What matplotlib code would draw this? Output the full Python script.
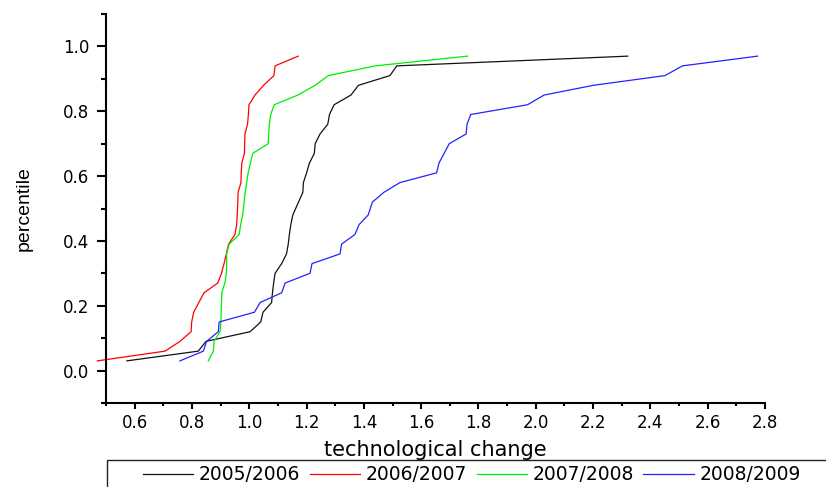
import matplotlib
matplotlib.use("Agg")
import matplotlib.pyplot as plt
from matplotlib.patches import Rectangle
from matplotlib.ticker import MultipleLocator, FormatStrFormatter

plt.rcParams["font.family"] = ["DejaVu Sans"]

TICK_FONTSIZE = 12
LABEL_FONTSIZE = 15
LEGEND_FONTSIZE = 13.5
LINE_WIDTH = 0.9

# empirical percentiles (same for every year)
percentile = [0.03, 0.06, 0.09, 0.12, 0.15, 0.18, 0.21, 0.24, 0.27, 0.30, 0.33, 0.36,
              0.39, 0.42, 0.45, 0.48, 0.52, 0.55, 0.58, 0.61, 0.64, 0.67, 0.70, 0.73,
              0.76, 0.79, 0.82, 0.85, 0.88, 0.91, 0.94, 0.97]

tc_2005 = [0.573, 0.822, 0.849, 1.003, 1.040, 1.048, 1.078, 1.081, 1.085, 1.090, 1.113, 1.130,
           1.136, 1.140, 1.145, 1.152, 1.172, 1.187, 1.189, 1.200, 1.210, 1.227, 1.230, 1.247,
           1.274, 1.280, 1.296, 1.355, 1.381, 1.491, 1.515, 2.321]
tc_2006 = [0.470, 0.706, 0.758, 0.797, 0.799, 0.806, 0.824, 0.842, 0.890, 0.903, 0.912, 0.920,
           0.928, 0.950, 0.956, 0.958, 0.960, 0.961, 0.971, 0.972, 0.974, 0.983, 0.984, 0.985,
           0.994, 0.997, 0.999, 1.020, 1.050, 1.086, 1.090, 1.171]
tc_2007 = [0.857, 0.875, 0.877, 0.898, 0.901, 0.902, 0.903, 0.904, 0.915, 0.920, 0.921, 0.921,
           0.930, 0.965, 0.970, 0.977, 0.982, 0.986, 0.991, 0.996, 1.004, 1.012, 1.066, 1.068,
           1.070, 1.075, 1.087, 1.170, 1.230, 1.276, 1.440, 1.762]
tc_2008 = [0.758, 0.840, 0.851, 0.892, 0.895, 1.018, 1.038, 1.113, 1.125, 1.212, 1.219, 1.317,
           1.322, 1.369, 1.383, 1.415, 1.430, 1.470, 1.526, 1.654, 1.662, 1.680, 1.698, 1.757,
           1.760, 1.773, 1.971, 2.029, 2.201, 2.451, 2.512, 2.774]

years = ["2005/2006", "2006/2007", "2007/2008", "2008/2009"]
series = [tc_2005, tc_2006, tc_2007, tc_2008]
colors = ["#111111", "#ff0000", "#00ee00", "#2222ff"]

fig = plt.figure(figsize=(8.26, 4.87), dpi=100)
ax = fig.add_axes([106 / 826, 1 - 403 / 487, 659 / 826, 389 / 487])

for name, xs, col in zip(years, series, colors):
    ax.plot(xs, percentile, color=col, linewidth=LINE_WIDTH, label=name, clip_on=False)

ax.set_xlim(0.5, 2.8)
ax.set_ylim(-0.1, 1.1)
ax.xaxis.set_major_locator(MultipleLocator(0.2))
ax.xaxis.set_minor_locator(MultipleLocator(0.1))
ax.yaxis.set_major_locator(MultipleLocator(0.2))
ax.yaxis.set_minor_locator(MultipleLocator(0.1))
ax.xaxis.set_major_formatter(FormatStrFormatter("%.1f"))
ax.yaxis.set_major_formatter(FormatStrFormatter("%.1f"))

for side in ["top", "right"]:
    ax.spines[side].set_visible(False)
for side in ["left", "bottom"]:
    ax.spines[side].set_linewidth(1.5)

ax.tick_params(axis="x", which="major", length=4, width=1.5, pad=4, labelsize=TICK_FONTSIZE)
ax.tick_params(axis="x", which="minor", length=2.2, width=1.5)
ax.tick_params(axis="y", which="major", length=6.7, width=1.5, pad=5.5, labelsize=TICK_FONTSIZE)
ax.tick_params(axis="y", which="minor", length=3.6, width=1.5)

ax.set_xlabel("technological change", fontsize=LABEL_FONTSIZE)
ax.xaxis.set_label_coords(0.5, -0.095)
ax.xaxis.label.set_va("top")
ax.set_ylabel("percentile", fontsize=14, family=["Liberation Sans", "DejaVu Sans"])
ax.yaxis.set_label_coords(-0.111, 0.5)

# legend box runs off the right and bottom edges
fig.patches.append(Rectangle((107 / 826, -0.1), 1.0, 0.1 + 1 - 460 / 487,
                             transform=fig.transFigure, fill=False,
                             edgecolor="#222222", linewidth=1.0))
fig.legend(loc="center left", bbox_to_anchor=(143 / 826, 1 - 475 / 487),
           ncol=4, frameon=False, fontsize=LEGEND_FONTSIZE, borderpad=0,
           borderaxespad=0, handlelength=2.67, handletextpad=0.32,
           columnspacing=0.5)

fig.savefig("out.png", dpi=100)
